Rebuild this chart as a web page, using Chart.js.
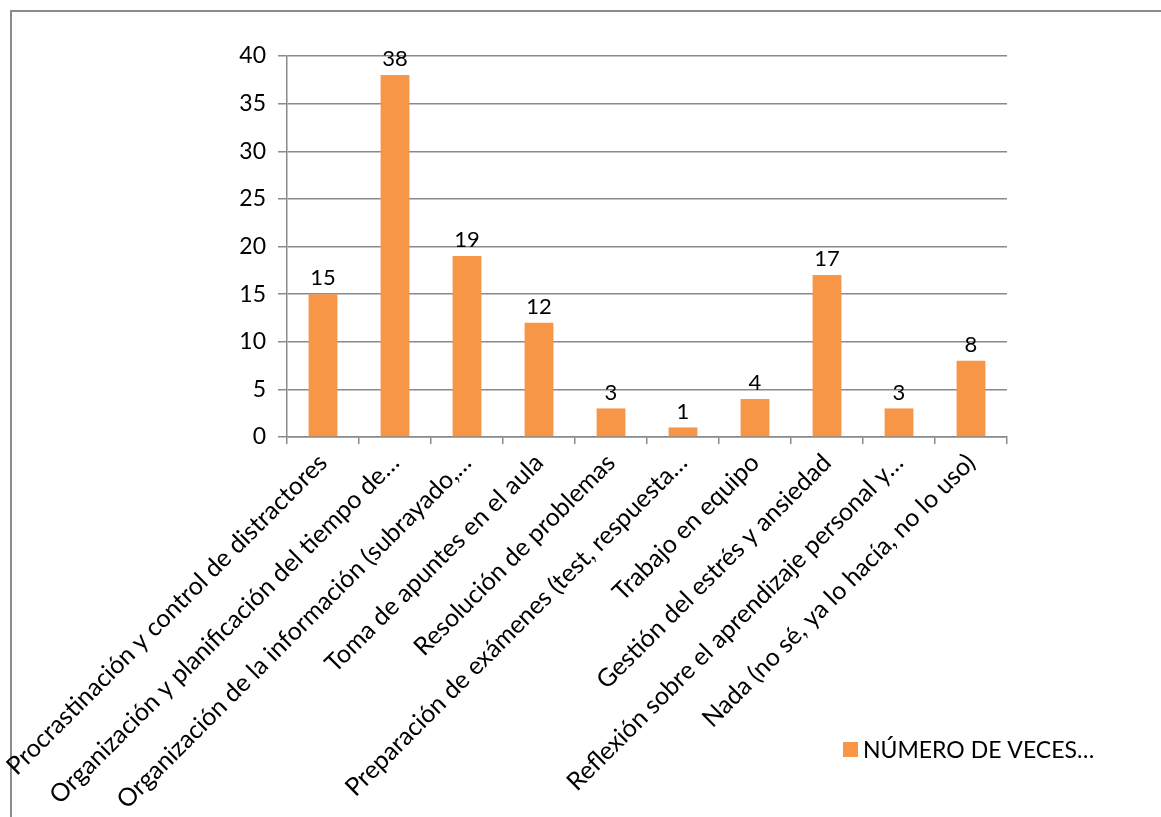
<!DOCTYPE html>
<html>
<head>
<meta charset="utf-8">
<script src="https://cdn.jsdelivr.net/npm/chart.js@4.4.0/dist/chart.umd.min.js"></script>
<style>
  html, body { margin: 0; padding: 0; background: #fff; }
  #wrap { position: relative; width: 1161px; height: 817px; }
  #frame { position: absolute; left: 10px; top: 10px; right: 0; bottom: 0;
           border-left: 2px solid #8c8c8c; border-top: 2px solid #8c8c8c; }
  canvas { position: absolute; left: 0; top: 0; }
</style>
</head>
<body>
<div id="wrap">
  <div id="frame"></div>
  <canvas id="barChart" width="1161" height="817"></canvas>
</div>
<script>
var categories = [
  'Procrastinación y control de distractores',
  'Organización y planificación del tiempo de…',
  'Organización de la información (subrayado,…',
  'Toma de apuntes en el aula',
  'Resolución de problemas',
  'Preparación de exámenes (test, respuesta…',
  'Trabajo en equipo',
  'Gestión del estrés y ansiedad',
  'Reflexión sobre el aprendizaje personal y…',
  'Nada (no sé, ya lo hacía, no lo uso)'
];
var veces = [15, 38, 19, 12, 3, 1, 4, 17, 3, 8];
var seriesName = 'NÚMERO DE VECES…';

var fontFamily = 'Lato, "Open Sans", sans-serif';
var barColor = '#F79646';
var gridColor = '#8a8a8a';

// value labels on top of the bars
var valueLabels = {
  id: 'valueLabels',
  afterDatasetsDraw: function (chart) {
    var c = chart.ctx;
    var meta = chart.getDatasetMeta(0);
    c.save();
    c.font = '22px ' + fontFamily;
    c.fillStyle = '#000';
    c.textAlign = 'center';
    c.textBaseline = 'bottom';
    meta.data.forEach(function (bar, i) {
      c.fillText(String(chart.data.datasets[0].data[i]), bar.x, bar.y - 5);
    });
    c.restore();
  }
};

// legend in the lower right corner, like the original
var cornerLegend = {
  id: 'cornerLegend',
  afterDraw: function (chart) {
    var c = chart.ctx;
    var ds = chart.data.datasets[0];
    c.save();
    c.fillStyle = ds.backgroundColor;
    c.fillRect(843, 742, 15, 15);
    c.font = '23px ' + fontFamily;
    c.fillStyle = '#000';
    c.textAlign = 'left';
    c.textBaseline = 'middle';
    c.fillText(ds.label, 863, 751);
    c.restore();
  }
};

var ctx = document.getElementById('barChart');
var barChart = new Chart(ctx, {
  type: 'bar',
  data: {
    labels: categories,
    datasets: [
      {
        label: seriesName,
        data: veces,
        backgroundColor: barColor,
        barPercentage: 0.4,
        categoryPercentage: 1.0
      }
    ]
  },
  options: {
    responsive: false,
    animation: false,
    layout: { padding: { left: 0, top: 56, right: 154, bottom: 0 } },
    plugins: {
      legend: { display: false },
      tooltip: { enabled: false }
    },
    scales: {
      x: {
        grid: { drawOnChartArea: false, drawTicks: true, tickLength: 7, color: gridColor, lineWidth: 1.5 },
        border: { color: gridColor, width: 1.5 },
        ticks: {
          color: '#000',
          font: { family: fontFamily, size: 25 },
          minRotation: 45,
          maxRotation: 45,
          autoSkip: false,
          padding: 4
        },
        afterFit: function (scale) {
          scale.height = 380;
          scale.paddingLeft = 0;
          scale.paddingRight = 0;
        }
      },
      y: {
        min: 0,
        max: 40,
        ticks: {
          stepSize: 5,
          color: '#000',
          font: { family: fontFamily, size: 23 },
          padding: 12
        },
        grid: { color: gridColor, lineWidth: 1.5, tickLength: 9 },
        border: { color: gridColor, width: 1.5 },
        afterFit: function (scale) {
          scale.width = 287;
          scale.paddingTop = 0;
          scale.paddingBottom = 0;
        }
      }
    }
  },
  plugins: [valueLabels, cornerLegend]
});
</script>
</body>
</html>
